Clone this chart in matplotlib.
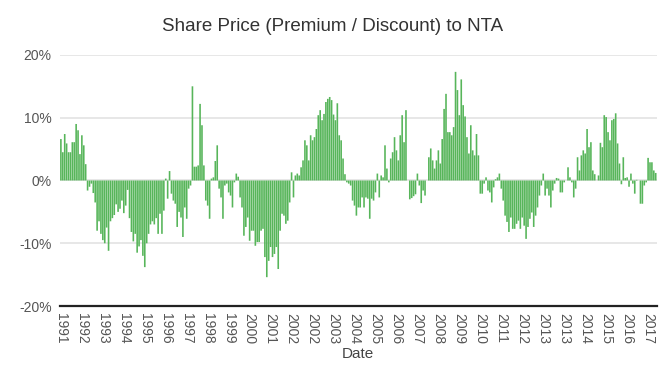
import matplotlib
matplotlib.use("Agg")
import matplotlib.pyplot as plt
import numpy as np
import pandas as pd
from matplotlib.ticker import FuncFormatter

# Monthly share price premium(+)/discount(-) to NTA, in percent
premium_discount = [
    # 1991-12 ..
    6.6, 4.5, 7.4, 5.9, 4.5, 4.5, 6.1, 6.1, 9.0, 8.0, 4.2, 7.2, 5.6, 2.6,
    -1.6, -1.0, -0.5, -2.0, -3.5,
    -8.0, -6.5, -8.5, -9.5, -10.0, -7.5, -11.2, -6.5, -6.0, -5.5, -3.8, -5.0,
    -4.5, -3.2, -5.2, -4.0, -1.5, -6.0, -8.2, -9.7, -8.5, -11.5, -10.5, -9.5,
    -12.0, -13.8, -10.0, -8.5, -7.0, -6.5, -7.0, -6.0,
    -8.5, -5.3, -8.5, -4.8, 0.3, -2.9, 1.5, -2.1, -3.2, -3.7, -7.4, -5.0, -5.9,
    -9.0, -4.3, -6.1, -1.3, -0.8, 15.0, 2.2, 2.2, 2.4, 12.2, 8.8, 2.4, -3.2,
    -4.0, -6.1, 0.3, 0.5, 3.1, 5.6, -1.3, -2.7, -6.1, -0.8, -0.5, -1.9, -2.4,
    -4.3, -0.3, 1.1, 0.6, -2.7, -4.3, -8.8, -7.4, -5.9, -9.6, -8.0,
    -8.0, -10.4, -9.8, -9.8, -8.0, -7.7, -12.2, -15.4, -12.8, -10.6, -12.2,
    -11.7, -10.6, -14.1, -8.0, -5.3, -5.6, -6.9, -6.4, -3.5, 1.3, -2.7, 0.8,
    1.1, 0.8, 2.1, 3.2, 6.4, 5.6, 3.2, 7.2, 6.4, 6.9, 8.2, 10.4, 11.2, 9.6,
    10.6, 12.5, 13.0, 13.3, 12.8, 10.5, 9.6, 12.3, 7.2, 6.4, 3.5, 1.0, -0.3,
    -0.5,
    -0.8, -3.2, -4.0, -5.6, -4.3, -4.3, -2.7, -4.3, -2.7, -2.9, -6.1, -2.9,
    -3.2, -1.9, 1.1, -2.7, 0.8, 0.5, 5.6, 1.9, -0.3, 3.5, 4.5, 6.9, 4.8, 3.2,
    7.2, 10.4, 6.1, 11.2, 0.0, -3.0, -2.8, -2.5, -2.2, 1.1, -0.8, -3.6, -1.6,
    -2.4, 0.0, 3.7, 5.1, 3.2, 1.9, 3.2, 4.8, 2.7, 6.6, 11.4, 13.8, 7.7,
    7.7, 7.2, 8.5, 17.3, 14.4, 10.4, 16.1, 12.0, 10.2, 6.9, 4.3, 8.8, 4.8, 4.0,
    7.4, 4.0, -2.1, -2.1, -0.5, 0.5, -1.6, -1.9, -3.5, -1.1, 0.2, 0.5, 1.1,
    -1.3, -3.2, -5.6, -6.6, -8.2, -5.9, -7.7, -7.7, -6.9, -6.4, -7.7, -5.9,
    -7.2, -9.3, -7.4, -6.1, -5.1, -7.4, -5.6, -4.3, -2.4, -0.8, 1.1, -2.4,
    -1.3, -2.4, -4.3, -1.6, -0.5, 0.4, 0.3, -1.9, -1.9, -0.3, 0.0, 2.1, 0.5,
    -0.3, -2.7, -1.3, 3.7, 1.6, 4.0, 4.8, 4.3, 8.2, 5.3, 6.1, 1.6, 1.0, 0.0,
    0.8, 6.0, 5.3, 10.4, 10.1, 7.7, 6.4, 9.6, 9.8, 10.7, 5.9, 2.7, -0.6, 3.7,
    0.4, 0.5, -1.0, 1.1, -0.5, -2.1, 0.1, 0.0, -3.7, -3.7, -0.8, -0.3, 3.6,
    2.9, 2.9, 1.6, 1.2,
]
dates = pd.date_range("1991-12-01", periods=len(premium_discount), freq="MS")
label_every = 11
y_ticks = [-20, -10, 0, 10, 20]

plt.rcParams["font.family"] = ["Liberation Sans", "DejaVu Sans"]

fig = plt.figure(figsize=(6.66, 3.84), dpi=100)
ax = fig.add_axes([0.090, 0.203, 0.896, 0.654])

x = np.arange(len(premium_discount))
bars = ax.bar(x, premium_discount, width=0.85, color="#57b55a", linewidth=0,
              zorder=2)
for b in bars:
    b.set_snap(False)

ax.set_xlim(-0.5, len(premium_discount) - 0.5)
ax.set_ylim(-20, 20)
ax.set_yticks(y_ticks)
ax.yaxis.set_major_formatter(FuncFormatter(lambda v, p: f"{v:.0f}%"))
ax.grid(axis="y", color="#e3e3e3", linewidth=1.2, zorder=0)
ax.set_axisbelow(True)

tick_pos = x[::label_every]
ax.set_xticks(tick_pos)
ax.set_xticklabels([str(d.year) for d in dates[::label_every]], rotation=270,
                   ha="center", va="top")

ax.tick_params(axis="both", length=0, labelsize=10, labelcolor="#555555")
ax.tick_params(axis="x", pad=5)
ax.tick_params(axis="y", pad=6)

for s in ["top", "right", "left"]:
    ax.spines[s].set_visible(False)
ax.spines["bottom"].set_color("#222222")
ax.spines["bottom"].set_linewidth(1.6)
ax.spines["bottom"].set_zorder(3)

ax.set_xlabel("Date", fontsize=11, color="#444444", labelpad=2)
fig.text(0.5, 0.932, "Share Price (Premium / Discount) to NTA", ha="center",
         va="center", fontsize=13.5, color="#333333")

fig.savefig("out.png", dpi=100)
